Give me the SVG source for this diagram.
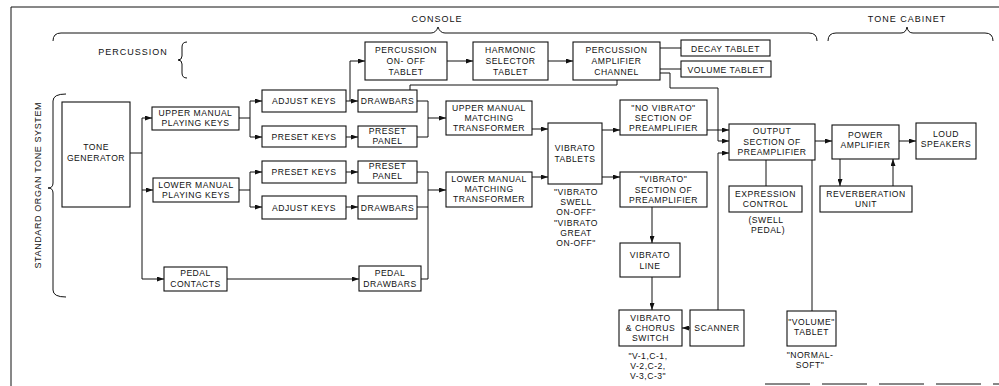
<svg xmlns="http://www.w3.org/2000/svg" width="999" height="386" viewBox="0 0 999 386">
<defs>
<marker id="ah" markerWidth="7" markerHeight="5" refX="7" refY="2.5" orient="auto" markerUnits="userSpaceOnUse">
<path d="M0,0 L7,2.5 L0,5 z" fill="#111"/>
</marker>
<style>
.b{fill:#fff;stroke:#111;stroke-width:1.1}
.t{font-family:"Liberation Sans",Arial,sans-serif;font-size:8.6px;fill:#111;text-anchor:middle;letter-spacing:0.5px}
.h{font-family:"Liberation Sans",Arial,sans-serif;font-size:9px;fill:#111;text-anchor:middle;letter-spacing:1px}
.c{fill:none;stroke:#111;stroke-width:1}
.a{fill:none;stroke:#111;stroke-width:1;marker-end:url(#ah)}
</style>
</defs>
<rect width="999" height="386" fill="#fff"/>
<g id="frame">
<path class="c" d="M11,386 V7 H999" stroke-width="1.3"/>
<path class="c" d="M765,384 H999" stroke-dasharray="45 12"/>
</g>
<g id="brackets">
<path class="c" d="M53,41 Q53,33 61,33 L431,33 Q436,33 438,27 Q440,33 445,33 L809,33 Q817,33 817,41"/>
<text class="h" x="437" y="22">CONSOLE</text>
<path class="c" d="M828,41 Q828,33 836,33 L901,33 Q906,33 907,27 Q908,33 913,33 L985,33 Q993,33 993,41"/>
<text class="h" x="907" y="22">TONE CABINET</text>
<text class="h" x="133" y="55">PERCUSSION</text>
<path class="c" d="M187,42 Q182,42 182,47 L182,56 Q182,60 178,60 Q182,60 182,64 L182,73 Q182,78 187,78"/>
<path class="c" d="M66,94 Q53,94 53,101 L53,183 Q53,188 48,188 Q53,188 53,193 L53,290 Q53,297 66,297"/>
<text class="h" transform="translate(41,185) rotate(-90)" textLength="167" lengthAdjust="spacing">STANDARD ORGAN TONE SYSTEM</text>
</g>
<g id="connectors">
<path class="c" d="M130,153 H142 M142,118 V279"/>
<path class="a" d="M142,118 H152"/>
<path class="a" d="M142,190 H153"/>
<path class="a" d="M142,279 H164"/>
<path class="c" d="M239,118 H250 M250,101 V137"/>
<path class="a" d="M250,101 H262"/>
<path class="a" d="M250,137 H262"/>
<path class="c" d="M239,190 H250 M250,172 V207"/>
<path class="a" d="M250,172 H262"/>
<path class="a" d="M250,207 H262"/>
<path class="a" d="M346,101 H358"/>
<path class="a" d="M350,101 V61 H365"/>
<path class="a" d="M346,137 H358"/>
<path class="a" d="M346,172 H358"/>
<path class="a" d="M346,207 H358"/>
<path class="c" d="M417,101 H428 V137 H417"/>
<path class="a" d="M428,118 H446"/>
<path class="c" d="M417,172 H428 V279 H421 M417,207 H428"/>
<path class="a" d="M428,190 H446"/>
<path class="a" d="M227,279 H359"/>
<path class="a" d="M447,61 H473"/>
<path class="a" d="M548,61 H573"/>
<path class="c" d="M617,80 V85 H410 V90"/>
<path class="c" d="M660,48 H681"/>
<path class="c" d="M660,69 H681"/>
<path class="a" d="M660,73 H670 V88 H718 V141 H729"/>
<path class="a" d="M532,129 H548"/>
<path class="a" d="M532,177 H548"/>
<path class="a" d="M602,130 H620"/>
<path class="a" d="M602,177 H620"/>
<path class="a" d="M707,130 H729"/>
<path class="a" d="M652,207 V243"/>
<path class="a" d="M652,277 V310"/>
<path class="a" d="M690,328 H682"/>
<path class="a" d="M718,310 V153 H729"/>
<path class="c" d="M766,160 V186"/>
<path class="c" d="M812,160 V311"/>
<path class="a" d="M815,141 H832"/>
<path class="a" d="M899,141 H916"/>
<path class="a" d="M840,159 V186"/>
<path class="a" d="M893,186 V159"/>
</g>
<g id="tone-generator"><rect class="b" x="62" y="102" width="68" height="105"/><text class="t" x="96" y="150">TONE</text><text class="t" x="96" y="161">GENERATOR</text></g>
<g id="upper-playing-keys"><rect class="b" x="152" y="107" width="87" height="23"/><text class="t" x="195.5" y="116">UPPER MANUAL</text><text class="t" x="195.5" y="126">PLAYING KEYS</text></g>
<g id="lower-playing-keys"><rect class="b" x="153" y="178" width="86" height="24"/><text class="t" x="196" y="188">LOWER MANUAL</text><text class="t" x="196" y="198">PLAYING KEYS</text></g>
<g id="adjust-keys-upper"><rect class="b" x="262" y="90" width="84" height="22"/><text class="t" x="304" y="104">ADJUST KEYS</text></g>
<g id="preset-keys-upper"><rect class="b" x="262" y="126" width="84" height="21"/><text class="t" x="304" y="140">PRESET KEYS</text></g>
<g id="preset-keys-lower"><rect class="b" x="262" y="161" width="84" height="22"/><text class="t" x="304" y="175">PRESET KEYS</text></g>
<g id="adjust-keys-lower"><rect class="b" x="262" y="196" width="84" height="23"/><text class="t" x="304" y="211">ADJUST KEYS</text></g>
<g id="drawbars-upper"><rect class="b" x="358" y="90" width="59" height="22"/><text class="t" x="387.5" y="104">DRAWBARS</text></g>
<g id="preset-panel-upper"><rect class="b" x="358" y="126" width="59" height="21"/><text class="t" x="387.5" y="134">PRESET</text><text class="t" x="387.5" y="144">PANEL</text></g>
<g id="preset-panel-lower"><rect class="b" x="358" y="161" width="59" height="22"/><text class="t" x="387.5" y="169">PRESET</text><text class="t" x="387.5" y="179">PANEL</text></g>
<g id="drawbars-lower"><rect class="b" x="358" y="196" width="59" height="23"/><text class="t" x="387.5" y="211">DRAWBARS</text></g>
<g id="pedal-contacts"><rect class="b" x="164" y="267" width="63" height="24"/><text class="t" x="195.5" y="276">PEDAL</text><text class="t" x="195.5" y="287">CONTACTS</text></g>
<g id="pedal-drawbars"><rect class="b" x="359" y="266" width="62" height="25"/><text class="t" x="390" y="276">PEDAL</text><text class="t" x="390" y="287">DRAWBARS</text></g>
<g id="percussion-on-off"><rect class="b" x="365" y="42" width="82" height="38"/><text class="t" x="406" y="53">PERCUSSION</text><text class="t" x="406" y="64">ON- OFF</text><text class="t" x="406" y="75">TABLET</text></g>
<g id="harmonic-selector"><rect class="b" x="473" y="42" width="75" height="38"/><text class="t" x="510.5" y="53">HARMONIC</text><text class="t" x="510.5" y="64">SELECTOR</text><text class="t" x="510.5" y="75">TABLET</text></g>
<g id="percussion-amplifier"><rect class="b" x="573" y="42" width="87" height="38"/><text class="t" x="616.5" y="53">PERCUSSION</text><text class="t" x="616.5" y="64">AMPLIFIER</text><text class="t" x="616.5" y="75">CHANNEL</text></g>
<g id="decay-tablet"><rect class="b" x="681" y="40" width="89" height="16"/><text class="t" x="725.5" y="51.5">DECAY TABLET</text></g>
<g id="volume-tablet-perc"><rect class="b" x="681" y="61" width="90" height="16"/><text class="t" x="726" y="72.5">VOLUME TABLET</text></g>
<g id="upper-matching"><rect class="b" x="446" y="101" width="86" height="34"/><text class="t" x="489" y="111">UPPER MANUAL</text><text class="t" x="489" y="121">MATCHING</text><text class="t" x="489" y="131">TRANSFORMER</text></g>
<g id="lower-matching"><rect class="b" x="446" y="172" width="86" height="35"/><text class="t" x="489" y="182">LOWER MANUAL</text><text class="t" x="489" y="192">MATCHING</text><text class="t" x="489" y="202">TRANSFORMER</text></g>
<g id="vibrato-tablets"><rect class="b" x="548" y="123" width="54" height="61"/><text class="t" x="575" y="151">VIBRATO</text><text class="t" x="575" y="162">TABLETS</text>
<text class="t" x="576" y="195">"VIBRATO</text><text class="t" x="576" y="205">SWELL</text><text class="t" x="576" y="215">ON-OFF"</text><text class="t" x="576" y="226">"VIBRATO</text><text class="t" x="576" y="236">GREAT</text><text class="t" x="576" y="246">ON-OFF"</text></g>
<g id="no-vibrato-section"><rect class="b" x="620" y="100" width="87" height="35"/><text class="t" x="663.5" y="111">"NO VIBRATO"</text><text class="t" x="663.5" y="121">SECTION OF</text><text class="t" x="663.5" y="131">PREAMPLIFIER</text></g>
<g id="vibrato-section"><rect class="b" x="620" y="172" width="87" height="35"/><text class="t" x="663.5" y="182">"VIBRATO"</text><text class="t" x="663.5" y="193">SECTION OF</text><text class="t" x="663.5" y="203">PREAMPLIFIER</text></g>
<g id="vibrato-line"><rect class="b" x="620" y="243" width="60" height="34"/><text class="t" x="650" y="258">VIBRATO</text><text class="t" x="650" y="269">LINE</text></g>
<g id="vibrato-chorus-switch"><rect class="b" x="619" y="310" width="63" height="36"/><text class="t" x="650.5" y="321">VIBRATO</text><text class="t" x="650.5" y="331">&amp; CHORUS</text><text class="t" x="650.5" y="341">SWITCH</text>
<text class="t" x="648" y="359">"V-1,C-1,</text><text class="t" x="648" y="369">V-2,C-2,</text><text class="t" x="648" y="379">V-3,C-3"</text></g>
<g id="scanner"><rect class="b" x="690" y="310" width="54" height="36"/><text class="t" x="717" y="331">SCANNER</text></g>
<g id="output-section"><rect class="b" x="729" y="124" width="86" height="36"/><text class="t" x="772" y="134">OUTPUT</text><text class="t" x="772" y="145">SECTION OF</text><text class="t" x="772" y="155">PREAMPLIFIER</text></g>
<g id="expression-control"><rect class="b" x="729" y="186" width="73" height="26"/><text class="t" x="765.5" y="197">EXPRESSION</text><text class="t" x="765.5" y="207">CONTROL</text>
<text class="t" x="766" y="223">(SWELL</text><text class="t" x="768" y="233">PEDAL)</text></g>
<g id="power-amplifier"><rect class="b" x="832" y="125" width="67" height="34"/><text class="t" x="865.5" y="138">POWER</text><text class="t" x="865.5" y="148">AMPLIFIER</text></g>
<g id="loud-speakers"><rect class="b" x="916" y="123" width="60" height="36"/><text class="t" x="946" y="137">LOUD</text><text class="t" x="946" y="147">SPEAKERS</text></g>
<g id="reverberation-unit"><rect class="b" x="820" y="186" width="92" height="26"/><text class="t" x="866" y="197">REVERBERATION</text><text class="t" x="866" y="207">UNIT</text></g>
<g id="volume-tablet"><rect class="b" x="787" y="311" width="49" height="35"/><text class="t" x="811.5" y="325">"VOLUME"</text><text class="t" x="811.5" y="335">TABLET</text>
<text class="t" x="810" y="358">"NORMAL-</text><text class="t" x="810" y="368">SOFT"</text></g>
</svg>
